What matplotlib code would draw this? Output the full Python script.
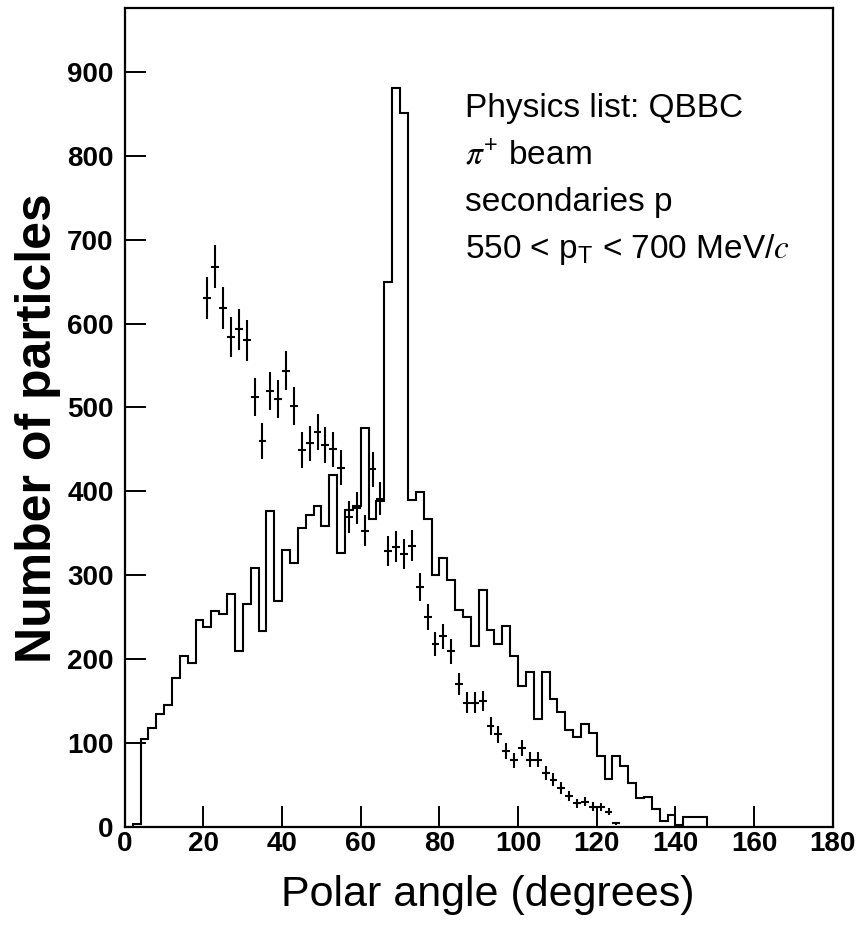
import numpy as np
import matplotlib
matplotlib.use("Agg")
import matplotlib.pyplot as plt

plt.rcParams["font.family"] = ["Liberation Sans", "DejaVu Sans"]
plt.rcParams["mathtext.fontset"] = "stix"

# Simulated polar-angle distribution (2-degree bins starting at 0)
bin_width = 2
sim_counts = [0, 3, 104, 118, 134, 145, 177, 203, 195, 246,
              238, 257, 254, 277, 210, 266, 309, 233, 376, 269,
              330, 315, 356, 372, 383, 359, 419, 327, 378, 382,
              476, 367, 389, 649, 881, 851, 390, 399, 367, 300,
              320, 294, 258, 250, 215, 282, 235, 218, 239, 203,
              168, 184, 129, 184, 152, 137, 115, 107, 123, 112,
              84, 57, 84, 72, 52, 34, 35, 21, 7, 14,
              2, 11, 11, 11]

# Measured points (bin centres in degrees, counts)
data_angle = [21, 23, 25, 27, 29, 31, 33, 35, 37, 39,
              41, 43, 45, 47, 49, 51, 53, 55, 57, 59,
              61, 63, 65, 67, 69, 71, 73, 75, 77, 79,
              81, 83, 85, 87, 89, 91, 93, 95, 97, 99,
              101, 103, 105, 107, 109, 111, 113, 115, 117, 119,
              121, 123, 125]
data_counts = [630, 668, 619, 584, 593, 580, 512, 460, 520, 510,
               544, 502, 449, 457, 471, 455, 450, 428, 369, 380,
               353, 426, 391, 329, 334, 325, 335, 286, 250, 218,
               227, 209, 170, 148, 148, 150, 120, 110, 90, 79,
               94, 80, 80, 64, 56, 46, 37, 28, 30, 24,
               23, 18, 4]

x_ticks = [0, 20, 40, 60, 80, 100, 120, 140, 160, 180]
y_ticks = [0, 100, 200, 300, 400, 500, 600, 700, 800, 900]

info_lines = ["Physics list: QBBC",
              r"$\pi^{\mathregular{+}}$ beam",
              "secondaries p",
              r"550 < p$\mathregular{_T}$ < 700 MeV/$\mathit{c}$"]

W, H = 861, 930
fig = plt.figure(figsize=(W / 100, H / 100), dpi=100)
ax = fig.add_axes([124.8 / W, 1 - 826.7 / H, (832.7 - 124.8) / W, (826.7 - 8.3) / H])

sim = np.asarray(sim_counts, dtype=float)
edges = np.arange(len(sim) + 1) * bin_width
ax.stairs(sim, edges, color="black", linewidth=1.5, baseline=0)

dc = np.asarray(data_counts, dtype=float)
ax.errorbar(data_angle, dc, yerr=np.sqrt(dc), xerr=bin_width / 2,
            fmt="none", ecolor="black", elinewidth=1.5, capsize=0)

ax.set_xlim(0, 180)
ax.set_ylim(0, 976)
ax.set_xticks(x_ticks)
ax.set_yticks(y_ticks)
ax.minorticks_off()
ax.tick_params(direction="in", length=15, width=1.4, labelsize=20, color="black")
ax.tick_params(axis="x", pad=3)
ax.tick_params(axis="y", pad=8)
for lab in ax.get_xticklabels() + ax.get_yticklabels():
    lab.set_fontweight("bold")
for sp in ax.spines.values():
    sp.set_linewidth(1.6)

fig.text(488 / W, 1 - 906 / H, "Polar angle (degrees)", fontsize=31,
         ha="center", va="baseline")
fig.text(38 / W, 1 - 428 / H, "Number of particles", fontsize=36,
         fontweight="bold", rotation=90, ha="center", va="center")

baselines = [117, 164, 211, 258]
for txt, yb in zip(info_lines, baselines):
    fig.text(465 / W, 1 - yb / H, txt, fontsize=24, ha="left", va="baseline")

fig.savefig("out.png", dpi=100)
